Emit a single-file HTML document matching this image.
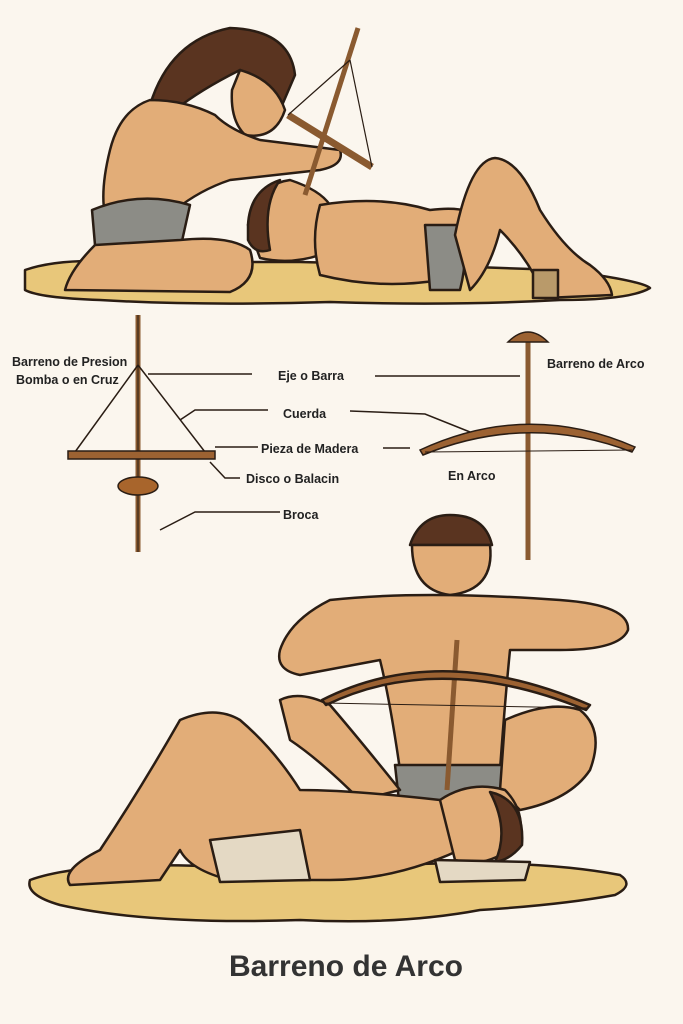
<!DOCTYPE html>
<html><head><meta charset="utf-8"><style>
html,body{margin:0;padding:0;background:#fbf6ee;}
svg{display:block}
text{font-family:"Liberation Sans",sans-serif;font-weight:bold;fill:#222}
</style></head><body>
<svg width="683" height="1024" viewBox="0 0 683 1024" xmlns="http://www.w3.org/2000/svg">
<rect width="683" height="1024" fill="#fbf6ee"/>
<g stroke="#2a1d14" stroke-width="2.5" stroke-linejoin="round">
<!-- top mat -->
<path d="M25 270 Q60 258 120 262 L300 262 Q420 265 560 270 Q640 280 650 288 Q630 300 560 300 Q450 306 330 302 Q200 306 100 300 Q40 298 25 290 Z" fill="#e8c77a"/>
<!-- kneeling figure -->
<path d="M150 105 Q170 40 230 28 Q290 30 295 75 L280 110 Q250 90 240 70 Q200 90 175 110 Z" fill="#5a3420"/>
<path d="M240 70 Q275 80 285 110 Q275 140 245 135 Q230 120 232 90 Z" fill="#e2ad78"/>
<path d="M150 100 Q120 110 110 150 Q100 190 105 215 L175 210 Q200 190 230 180 L320 170 Q345 165 340 150 L260 140 Q230 130 215 115 Q185 100 150 100 Z" fill="#e2ad78"/>
<path d="M92 210 Q140 190 190 205 L180 250 Q130 250 95 245 Z" fill="#8c8c86"/>
<path d="M95 245 Q70 270 65 290 L230 292 Q260 280 250 250 Q230 235 180 240 Z" fill="#e2ad78"/>
<!-- lying figure top -->
<path d="M248 225 Q255 185 290 180 Q320 190 330 205 L320 255 Q290 265 260 258 Z" fill="#e2ad78"/>
<path d="M248 225 Q250 190 280 180 Q262 205 270 250 Q255 255 248 240 Z" fill="#5a3420"/>
<path d="M320 205 Q380 195 430 210 Q470 205 480 220 L440 280 Q380 290 320 275 Q310 240 320 205 Z" fill="#e2ad78"/>
<path d="M425 225 L460 225 Q470 250 460 290 L430 290 Z" fill="#8c8c86"/>
<path d="M455 235 Q470 160 495 158 Q520 160 540 210 Q565 250 590 265 Q610 280 612 295 L545 298 Q530 260 500 230 Q490 270 470 290 Z" fill="#e2ad78"/>
<rect x="533" y="270" width="25" height="28" fill="#b99a6a"/>
<!-- top drill -->
<line x1="358" y1="28" x2="305" y2="195" stroke="#8a5a30" stroke-width="5"/>
<line x1="288" y1="115" x2="372" y2="167" stroke="#8a5a30" stroke-width="7"/>
<path d="M350 60 L288 115 M350 60 L372 167" fill="none" stroke-width="1.2"/>
</g>
<!-- middle diagram -->
<g stroke="#2a1d14" stroke-width="1.5" fill="none">
<line x1="138" y1="315" x2="138" y2="552" stroke="#8a5a30" stroke-width="5"/>
<line x1="138" y1="315" x2="138" y2="552" stroke-width="1"/>
<path d="M138 365 L75 452 M138 365 L205 452"/>
<rect x="68" y="451" width="147" height="8" fill="#9c6232"/>
<ellipse cx="138" cy="486" rx="20" ry="9" fill="#a8652c"/>
<line x1="528" y1="335" x2="528" y2="560" stroke="#8a5a30" stroke-width="5"/>
<path d="M508 342 Q528 322 548 342 Z" fill="#9c6232"/>
<path d="M420 450 Q528 400 635 447 L632 452 Q528 412 423 455 Z" fill="#9c6232"/>
<line x1="425" y1="452" x2="632" y2="450" stroke-width="1"/>
<!-- leaders -->
<line x1="148" y1="374" x2="252" y2="374"/>
<line x1="375" y1="376" x2="520" y2="376"/>
<path d="M180 420 L195 410 L268 410"/>
<path d="M350 411 L425 414 L470 432"/>
<line x1="215" y1="447" x2="258" y2="447"/>
<path d="M383 448 L410 448"/>
<path d="M210 462 L225 478 L240 478"/>
<path d="M160 530 L195 512 L280 512"/>
</g>
<g font-size="12.5">
<text x="12" y="366">Barreno de Presion</text>
<text x="16" y="384">Bomba o en Cruz</text>
<text x="278" y="380">Eje o Barra</text>
<text x="547" y="368">Barreno de Arco</text>
<text x="283" y="418">Cuerda</text>
<text x="261" y="453">Pieza de Madera</text>
<text x="246" y="483">Disco o Balacin</text>
<text x="448" y="480">En Arco</text>
<text x="283" y="519">Broca</text>
</g>
<!-- bottom scene -->
<g stroke="#2a1d14" stroke-width="2.5" stroke-linejoin="round">
<path d="M30 880 Q80 862 200 866 L420 864 Q540 860 620 875 Q635 885 615 895 Q560 905 480 910 Q400 925 300 920 Q150 925 60 905 Q25 895 30 880 Z" fill="#e8c77a"/>
<path d="M410 545 Q420 515 450 515 Q485 515 492 545 Z" fill="#5a3420"/>
<path d="M412 545 L490 545 Q495 590 450 595 Q412 590 412 545 Z" fill="#e2ad78"/>
<path d="M330 600 Q420 590 560 600 Q630 605 628 630 Q620 650 560 650 L510 650 Q505 700 500 770 L400 770 Q390 700 380 660 L300 675 Q275 670 280 650 Q290 620 330 600 Z" fill="#e2ad78"/>
<path d="M395 765 L505 765 L500 805 L400 810 Z" fill="#8c8c86"/>
<path d="M280 700 Q300 690 330 705 Q360 740 400 790 L360 800 Q320 760 290 740 Z" fill="#e2ad78"/>
<path d="M505 720 Q550 700 580 710 Q605 730 590 770 Q570 800 520 810 L500 790 Z" fill="#e2ad78"/>
<!-- bottom lying -->
<path d="M100 850 Q140 790 180 720 Q215 705 240 720 Q275 750 300 790 Q350 790 440 800 L470 845 Q400 880 330 880 L230 880 Q190 870 180 850 L160 880 L70 885 Q60 870 100 850 Z" fill="#e2ad78"/>
<path d="M210 840 L300 830 L310 880 L220 882 Z" fill="#e4d9c4"/>
<path d="M440 800 Q470 780 505 790 Q525 810 520 840 Q490 870 455 860 Z" fill="#e2ad78"/>
<path d="M490 792 Q525 800 522 845 Q510 860 495 862 Q510 830 490 792 Z" fill="#5a3420"/>
<path d="M435 860 L530 862 L525 880 L440 882 Z" fill="#e4d9c4"/>
<line x1="457" y1="640" x2="447" y2="790" stroke="#8a5a30" stroke-width="5"/>
<path d="M322 700 Q440 640 590 705 L586 710 Q440 650 326 705 Z" fill="#9c6232"/>
<line x1="324" y1="703" x2="588" y2="708" stroke-width="1"/>
</g>
<text x="346" y="976" font-size="30" text-anchor="middle" fill="#333" style="fill:#333">Barreno de Arco</text>
</svg>
</body></html>
